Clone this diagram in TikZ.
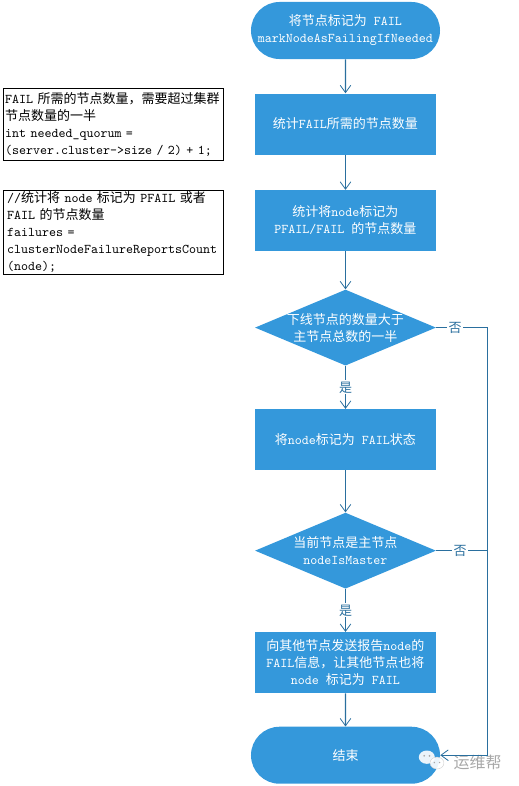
\documentclass[tikz,border=0pt]{standalone}
\usepackage{xcolor}
\usepackage{fontspec}
\usepackage{tikz}
\usetikzlibrary{arrows.meta,positioning,shapes.geometric,shapes.misc}
\newfontfamily\zhfont{Noto Sans CJK SC}[Scale=0.975]
\newcommand{\zh}[1]{{\zhfont #1}}
\definecolor{flowblue}{HTML}{3498DB}
\definecolor{flowline}{HTML}{2A6F9E}
\definecolor{markgray}{HTML}{A8A8A8}
\begin{document}
\begin{tikzpicture}[
      txt/.style={font=\fontsize{10bp}{12.75bp}\selectfont\ttfamily, align=center, inner sep=0pt},
      pill/.style={rounded rectangle, fill=flowblue, text=white, txt,
                   minimum width=141.75bp, minimum height=42.75bp},
      act/.style={rectangle, fill=flowblue, text=white, txt,
                  minimum width=135.75bp, minimum height=45.75bp},
      dec/.style={diamond, fill=flowblue, aspect=2.38, inner sep=0pt,
                  minimum width=135.75bp, minimum height=57bp},
      dectxt/.style={txt, text=white},
      note/.style={draw=black, line width=0.75bp, fill=white, txt, align=left,
                   text width=#1, minimum height=54bp},
      lab/.style={txt, fill=white, text=flowline, inner xsep=1bp, inner ysep=1bp},
      conn/.style={draw=flowline, line width=0.9bp},
      arr/.style={conn, -{Straight Barb[length=5.5bp,width=8bp,line width=0.6bp]}}
  ]
    \useasboundingbox (-259.125bp,22.875bp) rectangle (130.125bp,-566.625bp);
    \node[pill] (st) at (0,0) {\zh{将节点标记为} FAIL\\ markNodeAsFailingIfNeeded};
    \node[act, below=25.5bp of st]   (cq) {\zh{统计}FAIL\zh{所需的节点数量}};
    \node[act, below=26.25bp of cq]  (cn) {\zh{统计将}node\zh{标记为}\\ PFAIL/FAIL \zh{的节点数量}};
    \node[dec, below=28.5bp of cn]   (dq) {};
    \node[dectxt] (dqt) at (dq) {\zh{下线节点的数量大于}\\ \zh{主节点总数的一半}};
    \node[act, below=32.25bp of dq]  (mf) {\zh{将}node\zh{标记为} FAIL\zh{状态}};
    \node[dec, below=31.5bp of mf]   (dm) {};
    \node[dectxt] (dmt) at (dm) {\zh{当前节点是主节点}\\ nodeIsMaster};
    \node[act, below=32.25bp of dm]  (br) {\zh{向其他节点发送报告}node\zh{的}\\ FAIL\zh{信息，让其他节点也将}\\ node \zh{标记为} FAIL};
    \node[pill, below=24.75bp of br] (en) {\zh{结束}};
    \node[note=163bp, inner xsep=1bp, left=22.875bp of cq] (nq)
      {FAIL \zh{所需的节点数量，需要超过集群}\\ \zh{节点数量的一半}\\ int needed\_quorum =\\ (server.cluster->size / 2) + 1;};
    \node[note=160bp, inner xsep=2.5bp, minimum height=63bp, below=22bp of nq] (nc)
      {//\zh{统计将} node \zh{标记为} PFAIL \zh{或者}\\ FAIL \zh{的节点数量}\\ failures =\\ clusterNodeFailureReportsCount\\ (node);};
    \coordinate[right=38.25bp of dq.east] (bus);
    \node[txt, text=markgray, font=\fontsize{12.3bp}{14bp}\selectfont, anchor=west,
          right=9.75bp of en.east, yshift=-5.25bp] (wm) {\zh{运维帮}};
    \fill[white, opacity=0.9] (61bp,-545bp) ellipse (6bp and 5bp);
    \fill[white, opacity=0.9, draw=markgray!60, line width=0.3bp] (68.6bp,-549.4bp) ellipse (5.2bp and 4.5bp);
    \fill[markgray] (59bp,-544bp) circle (0.7bp) (63bp,-544bp) circle (0.7bp)
      (66.6bp,-549bp) circle (0.6bp) (70.6bp,-549bp) circle (0.6bp);
    \draw[arr] (st)--(cq);
    \draw[arr] (cq)--(cn);
    \draw[arr] (cn)--(dq);
    \draw[arr] (dq)-- node[lab] (dqy) {\zh{是}} (mf);
    \draw[arr] (mf)--(dm);
    \draw[arr] (dm)-- node[lab] (dmy) {\zh{是}} (br);
    \draw[arr] (br)--(en);
    \draw[arr] (dq.east)-- node[lab, pos=0.37] (dqn) {\zh{否}} (bus) |- (en.east);
    \draw[conn] (dm.east)-- node[lab, pos=0.47] (dmn) {\zh{否}} (dm.east -| bus);
  \end{tikzpicture}
\end{document}
